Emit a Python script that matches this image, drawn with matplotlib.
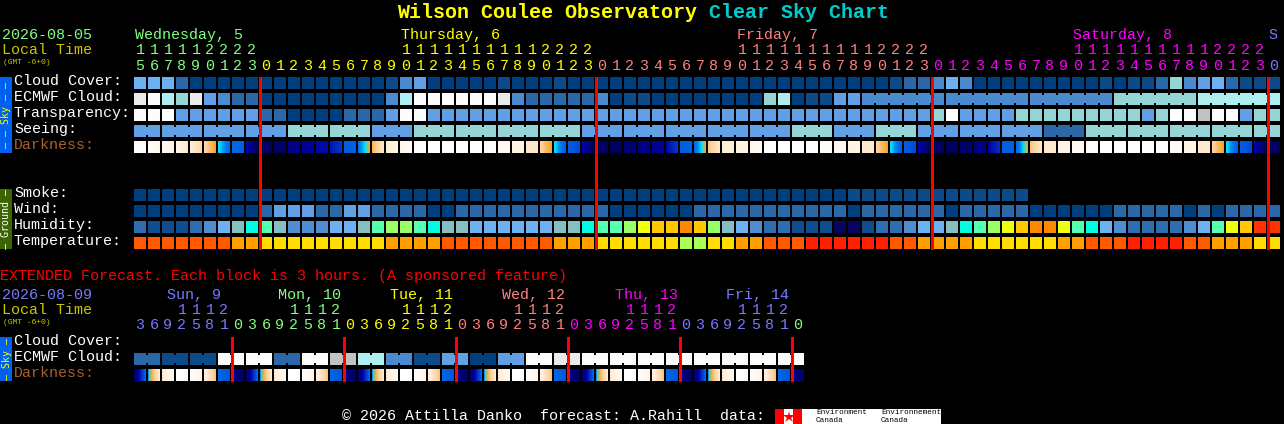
import matplotlib
matplotlib.use("Agg")
import matplotlib.pyplot as plt
import numpy as np
from matplotlib.colors import LinearSegmentedColormap

# ---------- data ----------
cloud_colors = ['#003f7f', '#0d4a8a', '#2a68aa', '#4a8ace', '#61a0e4', '#6eb1f3',
                '#95d5d5', '#aeeeee', '#c2c2c2', '#eaeaea', '#fcfcfc']
humidity_colors = ['#08035f', '#0f4d8f', '#2e6eb0', '#4d8dd0', '#6eb1f3', '#86bfbf', '#00ffdf',
                   '#55ffb0', '#99ff66', '#eeff11', '#ffc800', '#ff8800', '#ff3300']
temperature_colors = ['#ff2000', '#ff5a00', '#ffa000', '#ffdd00', '#a8ff55']

cloud_cover = [5,5,5,2,0,0,0,0,0,0,0,0,0,0,0,0,0,0,1,3,4,
               0,0,0,0,0,1,0,0,0,1,0,0,0,0,0,0,0,0,0,0,0,0,0,0,0,0,0,0,0,0,0,
               0,0,1,2,2,3,5,3,0,0,0,0,0,0,0,0,0,1,0,1,1,2,6,3,4,5,2,1,1,1]
ecmwf_cloud = [9,10,7,6,9,4,3,2,2,0,0,0,0,0,0,0,0,0,3,7,10,
               10,10,10,10,10,9,3,2,2,2,2,2,3,0,1,1,0,0,0,0,0,0,0,0,6,7,0,1,1,4,4,
               3,3,3,3,3,3,3,3,3,3,3,3,3,3,3,3,3,3,6,6,6,6,6,6,7,7,7,7,7,7]
ecmwf_runs_from = 52
ecmwf_run_length = 6
transparency = [10,10,10,4,4,4,4,4,4,2,2,0,0,0,0,2,2,2,4,10,10,
                4,4,4,4,4,4,4,4,4,4,4,4,4,4,4,4,4,4,4,4,4,4,4,4,4,4,4,4,4,4,4,
                4,4,4,4,4,6,10,4,4,4,4,6,6,6,6,6,6,6,6,6,4,6,10,10,8,10,10,4,6,6]
seeing_runs = [2,3,3,3,3,3,3,3,3,3,3,3,3,3,3,3,3,3,3,3,3,3,3,3,3,3,3,2]
seeing_values = [4,4,4,4,6,6,4,6,6,6,6,4,4,4,4,4,6,4,6,4,4,4,2,6,6,6,6,6]
dark_start = [0,.02,.06,.10,.15,.28,.50,.60,.80,.97,.96,.88,.84,.80,.77,.62,.58,.40,.18,.10,.03,
              0,0,0,0,.02,.06,.12,.20,.30,.50,.62,.80,.97,.97,.93,.88,.84,.80,.62,.60,.35,.16,.12,.06,0,0,0,0,.04,.08,.12,
              .18,.30,.50,.62,.80,.97,.97,.95,.88,.82,.62,.60,.35,.18,.12,.06,.02,0,0,0,0,.02,.05,.10,.18,.30,.50,.62,.80,.97]
dark_end = [.02,.08,.12,.18,.28,.45,.60,.62,.97,.97,.96,.88,.84,.80,.70,.62,.45,.20,.10,.05,0,
            0,0,0,0,.02,.06,.12,.20,.45,.62,.66,.96,.97,.97,.93,.88,.84,.70,.62,.45,.20,.16,.12,.06,0,0,0,0,.04,.08,.12,
            .18,.45,.62,.66,.96,.97,.97,.95,.88,.72,.62,.45,.20,.18,.12,.06,.02,0,0,0,0,.02,.05,.10,.18,.45,.62,.66,.96,.97]
smoke = [0]*51 + [1]*13
wind = [0,0,0,0,0,0,0,0,0,2,4,4,4,2,2,4,4,2,2,2,2,
        0,0,2,2,2,2,2,2,2,2,2,2,2,0,0,0,0,0,0,2,2,2,2,2,2,2,2,2,2,2,0,
        2,2,2,2,2,2,0,2,2,2,2,2,0,0,0,0,0,0,2,2,2,2,2,0,2,0,2,2,2,2]
humidity = [2,1,1,1,2,3,4,5,6,7,5,3,3,3,4,4,5,7,8,8,7,
            6,5,5,4,4,4,4,4,4,5,5,6,7,7,8,9,10,10,11,10,8,5,4,3,2,2,1,1,1,0,0,
            1,2,2,3,4,4,5,6,7,8,9,10,11,11,9,7,6,4,3,2,2,2,2,3,4,7,9,10,12,12]
temperature = [1,1,1,1,1,1,1,2,2,3,3,3,3,3,3,3,3,3,2,2,2,
               2,1,1,1,1,1,1,1,1,2,2,2,3,3,3,3,3,3,4,4,3,3,2,2,1,1,1,0,0,0,0,
               0,0,1,1,2,2,2,2,3,3,3,3,3,3,2,2,1,1,1,0,0,0,0,1,1,2,2,2,3,3]

main_ones = "567890123" + "012345678901234567890123" * 3 + "0"
main_tens = "111112222" + "          11111111112222" * 3 + " "
main_color_runs = [(9, '#80ff80'), (24, '#ffff00'), (24, '#ff8080'), (24, '#ff00ff'), (1, '#7878ff')]
main_days = [("Wednesday, 5", 135, '#80ff80'), ("Thursday, 6", 401, '#ffff00'),
             ("Friday, 7", 737, '#ff8080'), ("Saturday, 8", 1073, '#ff00ff'), ("S", 1268, '#7878ff')]
main_midnights = [9, 33, 57, 81]

ext_ones = "3692581" + "03692581" * 5 + "0"
ext_tens = "   1112" + " " + "   1112 " * 4 + "   1112" + " "
ext_color_runs = [(7, '#7878ff'), (8, '#80ff80'), (8, '#ffff00'), (8, '#ff8080'), (8, '#ff00ff'), (8, '#7878ff'), (1, '#80ff80')]
ext_days = [("Sun, 9", 167, '#7878ff'), ("Mon, 10", 278, '#80ff80'), ("Tue, 11", 390, '#ffff00'),
            ("Wed, 12", 502, '#ff8080'), ("Thu, 13", 615, '#ff00ff'), ("Fri, 14", 726, '#7878ff')]
ext_midnights = [7, 15, 23, 31, 39, 47]
ext_ecmwf = [2,1,1,10,10,2,10,8,7,3,1,4,0,4,10,9,10,10,10,10,10,10,10,10]
ext_dark_start = [.95,.54,.18,0,.02,.12,.60,.85]*6
ext_dark_end = [.60,.16,.05,0,.10,.36,.64,.97]*6

dark_cmap = LinearSegmentedColormap.from_list('dark', [
    (0.00, '#ffffff'), (0.10, '#fff6ea'), (0.20, '#ffe8c8'), (0.32, '#fdcf98'), (0.45, '#ffa020'),
    (0.50, '#00e8ff'), (0.56, '#0080f0'), (0.62, '#0060e0'), (0.72, '#0030c0'), (0.82, '#0000a0'),
    (0.90, '#000080'), (1.00, '#000058')])

CELL, GAP, X0 = 12, 2, 134
PITCH = CELL + GAP
MONO = 'Liberation Mono'

fig = plt.figure(figsize=(12.84, 4.24), dpi=100, facecolor='black')
ax = fig.add_axes([0, 0, 1, 1])
ax.set_facecolor('black')
ax.axis('off')


def px(size):
    return size * 0.72


def text(x, y, s, color='white', size=15, **kw):
    ax.text(x, y, s, color=color, fontsize=px(size), family=MONO, va=kw.pop('va', 'baseline'),
            ha=kw.pop('ha', 'left'), **kw)


def cells(top, levels, palette, start=0):
    xs = [X0 + PITCH * (start + i) for i in range(len(levels))]
    ax.bar(xs, CELL, bottom=top, width=CELL, align='edge',
           color=[palette[v] for v in levels], linewidth=0, antialiased=False, zorder=2)


def connect(top, first, count, color):
    xs = [X0 + PITCH * (first + i) + CELL for i in range(count - 1)]
    ax.bar(xs, 8, bottom=top + 2, width=GAP, align='edge', color=color,
           linewidth=0, antialiased=False, zorder=2)


def gradient(top, starts, ends):
    for i, (a, b) in enumerate(zip(starts, ends)):
        x = X0 + PITCH * i
        ax.imshow(np.linspace(a, b, CELL)[None, :], cmap=dark_cmap, vmin=0, vmax=1, aspect='auto',
                  interpolation='nearest', extent=(x, x + CELL, top + CELL, top), zorder=2)


def header(ones, tens, runs, days, y_day, y_tens, y_ones):
    colors = [c for n, c in runs for _ in range(n)]
    for i, ch in enumerate(ones):
        text(X0 + PITCH * i + 6, y_ones, ch, colors[i], ha='center')
    for i, ch in enumerate(tens):
        if ch != ' ':
            text(X0 + PITCH * i + 6, y_tens, ch, colors[i], ha='center')
    for label, x, c in days:
        text(x, y_day, label, c)


def side(top, bottom, color, s, tcolor):
    ax.bar(0, bottom - top, bottom=top, width=12, align='edge', color=color, linewidth=0,
           antialiased=False, zorder=2)
    ax.text(6.5, (top + bottom) / 2, s, color=tcolor, fontsize=px(10), family='DejaVu Sans Mono',
            rotation=90, ha='center', va='center', zorder=3)


# title
text(397, 18, "Wilson Coulee Observatory", '#ffff00', size=20, fontweight='bold')
text(709, 18, "Clear Sky Chart", '#00cccc', size=20, fontweight='bold')

# main header
text(2, 39, "2026-08-05", '#80ff80')
text(2, 54, "Local Time", '#c8c800')
text(3, 64, "(GMT -6+0)", '#c8c800', size=8)
header(main_ones, main_tens, main_color_runs, main_days, 39, 54, 70)

# sky rows
side(77, 153, '#0060f0', "\u2013 \u2013 Sky \u2013 \u2013", '#ffff00')
for y, label, c in [(85, "Cloud Cover:", 'white'), (101, "ECMWF Cloud:", 'white'), (117, "Transparency:", 'white'),
                    (133, "Seeing:", 'white'), (149, "Darkness:", '#a8602c')]:
    text(14, y, label, c)
cells(77, cloud_cover, cloud_colors)
cells(93, ecmwf_cloud, cloud_colors)
for k in range((len(ecmwf_cloud) - ecmwf_runs_from) // ecmwf_run_length):
    f = ecmwf_runs_from + k * ecmwf_run_length
    connect(93, f, ecmwf_run_length, cloud_colors[ecmwf_cloud[f]])
cells(109, transparency, cloud_colors)
seeing = [v for n, v in zip(seeing_runs, seeing_values) for _ in range(n)]
cells(125, seeing, cloud_colors)
pos = 0
for n, v in zip(seeing_runs, seeing_values):
    connect(125, pos, n, cloud_colors[v])
    pos += n
gradient(141, dark_start, dark_end)

# ground rows
side(189, 249, '#3c6400', "\u2013 Ground \u2013", 'white')
for y, label in [(197, "Smoke:"), (213, "Wind:"), (229, "Humidity:"), (245, "Temperature:")]:
    text(14, y, label)
cells(189, smoke, cloud_colors)
cells(205, wind, cloud_colors)
cells(221, humidity, humidity_colors)
cells(237, temperature, temperature_colors)

ax.vlines([X0 + PITCH * i for i in main_midnights], 77, 249, color='#ff0000', lw=px(2.6),
          antialiased=False, zorder=4)

# extended forecast
text(0, 280, "EXTENDED Forecast. Each block is 3 hours. (A sponsored feature)", '#ff0000')
text(2, 299, "2026-08-09", '#7878ff')
text(2, 314, "Local Time", '#c8c800')
text(3, 324, "(GMT -6+0)", '#c8c800', size=8)
header(ext_ones, ext_tens, ext_color_runs, ext_days, 299, 314, 329)
side(337, 381, '#0060f0', "\u2013 Sky \u2013", '#ffff00')
for y, label, c in [(345, "Cloud Cover:", 'white'), (361, "ECMWF Cloud:", 'white'), (377, "Darkness:", '#a8602c')]:
    text(14, y, label, c)
ext_cells = [v for v in ext_ecmwf for _ in range(2)]
cells(353, ext_cells, cloud_colors)
for k, v in enumerate(ext_ecmwf):
    connect(353, 2 * k, 2, cloud_colors[v])
gradient(369, ext_dark_start, ext_dark_end)
ax.vlines([X0 + PITCH * i for i in ext_midnights], 337, 381, color='#ff0000', lw=px(2.6),
          antialiased=False, zorder=4)

# footer
text(342, 420, "\u00a9 2026 Attilla Danko  forecast: A.Rahill  data:")
ax.bar(775, 15, bottom=409, width=166, align='edge', color='white', linewidth=0, zorder=2)
ax.bar([775, 793], 15, bottom=409, width=9, align='edge', color='#ff0000', linewidth=0, zorder=3)
ax.plot([788.5], [417], marker='*', ms=9, color='#ff0000', mew=0, zorder=3)
for x, a in [(816, "Environment"), (881, "Environnement")]:
    ax.text(x, 414.5, a, color='black', fontsize=px(7.6), family=MONO, zorder=4)
    ax.text(x, 422, "Canada", color='black', fontsize=px(7.6), family=MONO, zorder=4)

ax.set_xlim(0, 1284)
ax.set_ylim(424, 0)
fig.savefig('out.png', dpi=100, facecolor='black')
